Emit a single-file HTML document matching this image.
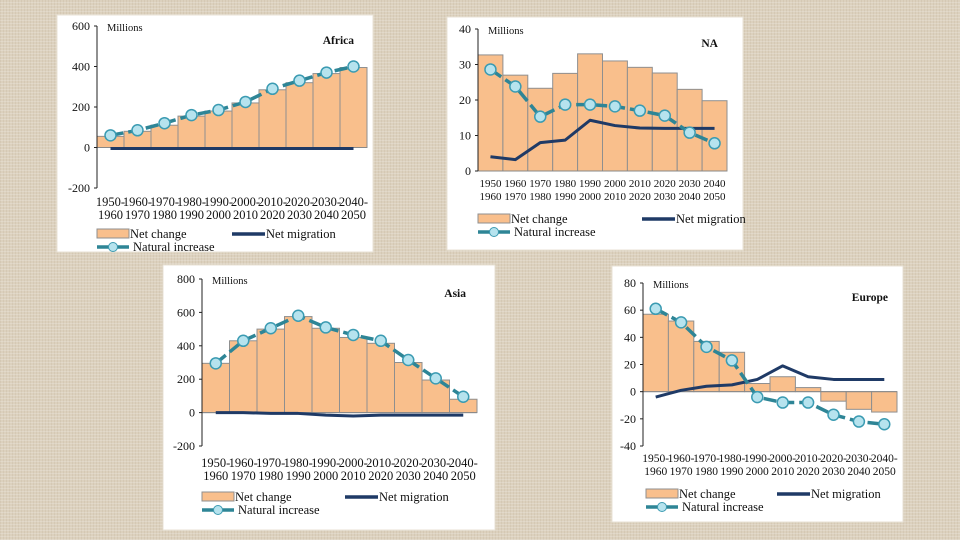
<!DOCTYPE html>
<html><head><meta charset="utf-8">
<style>
html,body{margin:0;padding:0;}
body{width:960px;height:540px;background:#dcd1be;position:relative;overflow:hidden;
background-image:repeating-linear-gradient(0deg,rgba(255,255,255,0.18) 0 1px,transparent 1px 3px),repeating-linear-gradient(90deg,rgba(160,140,110,0.12) 0 1px,transparent 1px 3px);}
svg{position:absolute;left:0;top:0;}
text{font-family:"Liberation Serif",serif;fill:#111;}
</style></head>
<body>
<svg id="s" width="960" height="540"></svg>
<script>
const categoriesTop=["1950-","1960-","1970-","1980-","1990-","2000-","2010-","2020-","2030-","2040-"];
const categoriesBottom=["1960","1970","1980","1990","2000","2010","2020","2030","2040","2050"];
const naTop=["1950","1960","1970","1980","1990","2000","2010","2020","2030","2040"];

const africaNet=[55,80,110,155,180,220,285,320,365,395];
const africaNatural=[60,85,120,160,185,225,290,330,370,400];
const africaMigration=[-5,-5,-5,-5,-5,-5,-5,-5,-5,-5];
const africaTicks=[600,400,200,0,-200];

const naNet=[32.7,27,23.3,27.5,33,31,29.2,27.6,23,19.8];
const naNatural=[28.6,23.8,15.3,18.7,18.7,18.2,17,15.6,10.8,7.8];
const naMigration=[4,3.2,8,8.7,14.3,12.8,12.1,12,12,12];
const naTicks=[40,30,20,10,0];

const asiaNet=[295,430,500,575,505,450,415,300,195,80];
const asiaNatural=[295,430,505,580,510,465,430,315,205,95];
const asiaMigration=[0,0,-5,-5,-15,-20,-15,-15,-15,-15];
const asiaTicks=[800,600,400,200,0,-200];

const europeNet=[57,52,37,29,6,11,3,-7,-13,-15];
const europeNatural=[61,51,33,23,-4,-8,-8,-17,-22,-24];
const europeMigration=[-4,1,4,5,9,19,11,9,9,9];
const europeTicks=[80,60,40,20,0,-20,-40];

const NS="http://www.w3.org/2000/svg";
const svg=document.getElementById('s');
function el(tag,attrs,parent,txt){const e=document.createElementNS(NS,tag);for(const k in attrs)e.setAttribute(k,attrs[k]);if(txt!==undefined)e.textContent=txt;(parent||svg).appendChild(e);return e;}

function drawChart(c){
  const g=el('g',{});
  
  
  const bg=el('rect',{x:c.bx,y:c.by,width:c.bw,height:c.bh,fill:'#fff',stroke:'#e8e2d6'},g);
  
  
  const yMax=c.ticks[0],yMin=c.ticks[c.ticks.length-1];
  const y=v=>c.yTop+(yMax-v)/(yMax-yMin)*(c.yBot-c.yTop);
  const n=c.net.length,bw=(c.x1-c.x0)/n;
  const xc=i=>c.x0+bw*(i+0.5);
  c.net.forEach((v,i)=>{
    const r=el('rect',{x:c.x0+bw*i,y:Math.min(y(v),y(0)),width:bw,height:Math.abs(y(v)-y(0)),fill:'#f9bf8c',stroke:'#8f8f8f','stroke-width':1},g);
    
    
  });
  el('line',{x1:c.x0,x2:c.x1,y1:y(0),y2:y(0),stroke:'#888','stroke-width':1},g);
  const ax=el('line',{x1:c.x0,x2:c.x0,y1:c.yTop,y2:c.yBot,stroke:'#222','stroke-width':1},g);
  
  
  c.ticks.forEach(t=>{
    el('line',{x1:c.x0-3,x2:c.x0,y1:y(t),y2:y(t),stroke:'#222'},g);
    const tt=el('text',{x:c.x0-7,y:y(t)+4,'text-anchor':'end','font-size':12},g,String(t));
    
    
  });
  const mu=el('text',{x:c.x0+10,y:c.yTop+5,'font-size':10.5},g,'Millions');
  
  
  const ti=el('text',{x:c.titleX,y:c.yTop+18,'font-size':11.5,'font-weight':'bold','text-anchor':'end'},g,c.title);
  
  
  const mp=el('polyline',{points:c.mig.map((v,i)=>xc(i)+','+y(v)).join(' '),fill:'none',stroke:'#1f3a66','stroke-width':3,'stroke-linejoin':'round'},g);
  
  
  const np=el('polyline',{points:c.nat.map((v,i)=>xc(i)+','+y(v)).join(' '),fill:'none',stroke:'#2e8596','stroke-width':3.5,'stroke-dasharray':'13 5'},g);
  
  
  c.nat.forEach((v,i)=>{
    const p=el('circle',{cx:xc(i),cy:y(v),r:5.5,fill:'#b6e3ee',stroke:'#3b9bb2','stroke-width':1.5},g);
    
    
  });
  c.top.forEach((t,i)=>{
    const a=el('text',{x:xc(i),y:c.lab1,'text-anchor':'middle','font-size':c.lf},g,t);
    
    
    el('text',{x:xc(i),y:c.lab1+13,'text-anchor':'middle','font-size':c.lf},g,categoriesBottom[i]);
  });
  const L=c.leg;
  const lg=el('g',{},g);
  
  
  el('rect',{x:L[0],y:L[1]-5,width:32,height:9,fill:'#f9bf8c',stroke:'#8f8f8f'},lg);
  el('text',{x:L[0]+33,y:L[1]+4,'font-size':12.5},lg,'Net change');
  el('line',{x1:L[2],x2:L[2]+33,y1:L[1],y2:L[1],stroke:'#1f3a66','stroke-width':3.5},lg);
  el('text',{x:L[2]+34,y:L[1]+4,'font-size':12.5},lg,'Net migration');
  el('line',{x1:L[0],x2:L[0]+32,y1:L[1]+13,y2:L[1]+13,stroke:'#2e8596','stroke-width':3.5},lg);
  el('circle',{cx:L[0]+16,cy:L[1]+13,r:4.5,fill:'#b6e3ee',stroke:'#3b9bb2'},lg);
  el('text',{x:L[0]+36,y:L[1]+17,'font-size':12.5},lg,'Natural increase');
}

drawChart({name:'africa',title:'Africa',bx:57,by:15,bw:316,bh:237,x0:97,x1:367,yTop:26,yBot:188,ticks:africaTicks,net:africaNet,nat:africaNatural,mig:africaMigration,top:categoriesTop,titleX:354,lab1:206,lf:12.5,leg:[97,234,232]});
drawChart({name:'na',title:'NA',bx:447,by:17,bw:296,bh:233,x0:478,x1:727,yTop:29,yBot:171,ticks:naTicks,net:naNet,nat:naNatural,mig:naMigration,top:naTop,titleX:718,lab1:187,lf:11,leg:[478,219,642]});
drawChart({name:'asia',title:'Asia',bx:163,by:265,bw:332,bh:265,x0:202,x1:477,yTop:279,yBot:446,ticks:asiaTicks,net:asiaNet,nat:asiaNatural,mig:asiaMigration,top:categoriesTop,titleX:466,lab1:467,lf:12.5,leg:[202,497,345]});
drawChart({name:'europe',title:'Europe',bx:612,by:266,bw:291,bh:256,x0:643,x1:897,yTop:283,yBot:446,ticks:europeTicks,net:europeNet,nat:europeNatural,mig:europeMigration,top:categoriesTop,titleX:888,lab1:462,lf:11.5,leg:[646,494,777]});
</script>
</body></html>
